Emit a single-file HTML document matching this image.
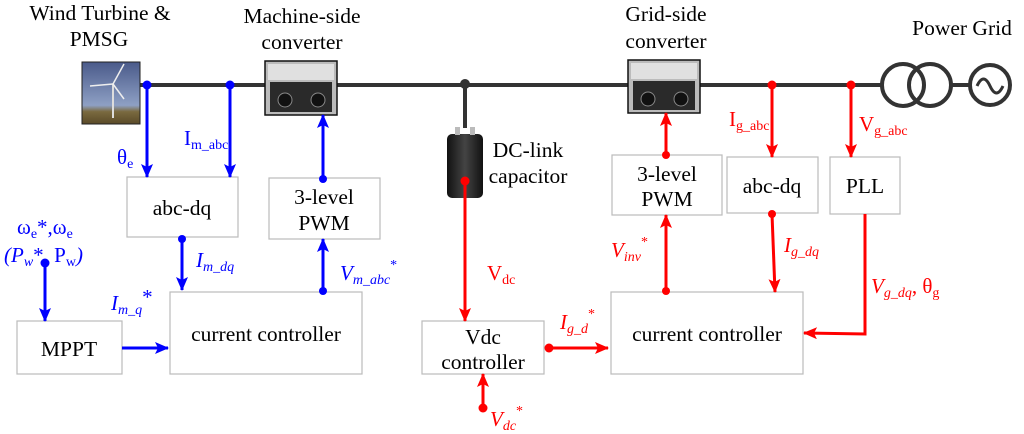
<!DOCTYPE html>
<html><head><meta charset="utf-8"><style>
html,body{margin:0;padding:0;background:#fff}
svg{display:block}
text{font-family:"Liberation Serif",serif}
</style></head><body>
<svg width="1024" height="434" viewBox="0 0 1024 434" xmlns="http://www.w3.org/2000/svg">
<defs>
<marker id="ab" markerWidth="14" markerHeight="12" refX="13" refY="6" orient="auto" markerUnits="userSpaceOnUse" viewBox="0 0 14 12"><path d="M0,0 L14,6 L0,12 L3,6 z" fill="#0000ff"/></marker>
<marker id="ar" markerWidth="14" markerHeight="12" refX="13" refY="6" orient="auto" markerUnits="userSpaceOnUse" viewBox="0 0 14 12"><path d="M0,0 L14,6 L0,12 L3,6 z" fill="#ff0000"/></marker>
<linearGradient id="sky" x1="0" y1="0" x2="0" y2="1"><stop offset="0" stop-color="#4a5a8a"/><stop offset="0.7" stop-color="#8ea0c4"/><stop offset="0.8" stop-color="#7a6a40"/><stop offset="1" stop-color="#5a4a28"/></linearGradient>
<linearGradient id="cap" x1="0" y1="0" x2="1" y2="0"><stop offset="0" stop-color="#111"/><stop offset="0.5" stop-color="#444"/><stop offset="1" stop-color="#111"/></linearGradient>
</defs>
<line x1="140" y1="85" x2="882" y2="85" stroke="#333" stroke-width="4"/>
<line x1="465" y1="85" x2="465" y2="128" stroke="#333" stroke-width="4"/>
<circle cx="465" cy="84" r="5" fill="#333"/>
<circle cx="903" cy="85" r="21" fill="none" stroke="#333" stroke-width="4"/>
<circle cx="930" cy="85" r="21" fill="none" stroke="#333" stroke-width="4"/>
<line x1="951" y1="85" x2="970" y2="85" stroke="#333" stroke-width="4"/>
<circle cx="990" cy="85" r="20" fill="none" stroke="#333" stroke-width="4"/>
<path d="M977,86 q6.5,-14 13,0 t13,0" fill="none" stroke="#333" stroke-width="3"/>
<rect x="82" y="62" width="58" height="62" fill="url(#sky)" stroke="#222"/>
<line x1="113" y1="84" x2="113" y2="118" stroke="#ddd" stroke-width="2"/>
<line x1="113" y1="84" x2="124" y2="64" stroke="#eee" stroke-width="1.5"/>
<line x1="113" y1="84" x2="90" y2="86" stroke="#eee" stroke-width="1.5"/>
<line x1="113" y1="84" x2="124" y2="99" stroke="#eee" stroke-width="1.5"/>
<g>
<rect x="265" y="61" width="72" height="54" fill="#bbb" stroke="#111" stroke-width="1.5"/>
<rect x="268" y="64" width="66" height="16" fill="#e0e0e0"/>
<rect x="270" y="82" width="62" height="30" fill="#2a2a2a"/>
<circle cx="285" cy="100" r="7" fill="#111" stroke="#888"/>
<circle cx="318" cy="100" r="7" fill="#111" stroke="#888"/>
</g>
<g>
<rect x="628" y="60" width="72" height="53" fill="#bbb" stroke="#111" stroke-width="1.5"/>
<rect x="631" y="63" width="66" height="16" fill="#e0e0e0"/>
<rect x="633" y="81" width="62" height="29" fill="#2a2a2a"/>
<circle cx="648" cy="99" r="7" fill="#111" stroke="#888"/>
<circle cx="681" cy="99" r="7" fill="#111" stroke="#888"/>
</g>
<rect x="447" y="134" width="36" height="64" rx="5" fill="url(#cap)"/>
<rect x="455" y="127" width="5" height="8" fill="#bbb"/><rect x="470" y="127" width="5" height="8" fill="#bbb"/>
<g fill="#fff" stroke="#bbb" stroke-width="1.2">
<rect x="127" y="177" width="111" height="60"/>
<rect x="269" y="178" width="111" height="61"/>
<rect x="17" y="321" width="105" height="53"/>
<rect x="170" y="292" width="192" height="82"/>
<rect x="422" y="321" width="122" height="53"/>
<rect x="611" y="292" width="192" height="82"/>
<rect x="612" y="155" width="110" height="60"/>
<rect x="727" y="157" width="91" height="56"/>
<rect x="830" y="157" width="70" height="57"/>
</g>
<g font-size="21.5" fill="#000" text-anchor="middle">
<text x="182" y="215">abc-dq</text>
<text x="324" y="204">3-level</text><text x="324" y="230">PWM</text>
<text x="69" y="356">MPPT</text>
<text x="266" y="341">current controller</text>
<text x="483" y="344">Vdc</text><text x="483" y="369">controller</text>
<text x="707" y="341">current controller</text>
<text x="667" y="181">3-level</text><text x="667" y="206">PWM</text>
<text x="772" y="193">abc-dq</text>
<text x="865" y="193">PLL</text>
<text x="100" y="20">Wind Turbine &amp;</text><text x="99" y="46">PMSG</text>
<text x="302" y="23">Machine-side</text><text x="302" y="49">converter</text>
<text x="666" y="21">Grid-side</text><text x="666" y="48">converter</text>
<text x="962" y="35">Power Grid</text>
<text x="528" y="157">DC-link</text><text x="528" y="183">capacitor</text>
</g>
<g stroke="#0000ff" stroke-width="3" fill="none">
<line x1="147" y1="85" x2="147" y2="177" marker-end="url(#ab)"/>
<line x1="230" y1="85" x2="230" y2="177" marker-end="url(#ab)"/>
<line x1="323" y1="178" x2="323" y2="115" marker-end="url(#ab)"/>
<line x1="323" y1="292" x2="323" y2="239" marker-end="url(#ab)"/>
<line x1="182" y1="238" x2="182" y2="290" marker-end="url(#ab)"/>
<line x1="45" y1="263" x2="45" y2="321" marker-end="url(#ab)"/>
<line x1="122" y1="348" x2="168" y2="348" marker-end="url(#ab)"/>
</g>
<g fill="#0000ff">
<circle cx="147" cy="85" r="4.5"/><circle cx="230" cy="85" r="4.5"/>
<circle cx="323" cy="179" r="4"/><circle cx="323" cy="291" r="4"/>
<circle cx="182" cy="239" r="4"/><circle cx="45" cy="263" r="4.5"/>
</g>
<g fill="#0000ff" font-size="21">
<text x="117" y="164">θ<tspan font-size="14" dy="4">e</tspan></text>
<text x="184" y="145">I<tspan font-size="14" dy="4">m_abc</tspan></text>
<text x="196" y="267" font-style="italic">I<tspan font-size="14" dy="4">m_dq</tspan></text>
<text x="340" y="280" font-style="italic">V<tspan font-size="14" dy="4">m_abc</tspan><tspan font-size="14" dy="-15" font-style="normal">*</tspan></text>
<text x="111" y="310" font-style="italic">I<tspan font-size="14" dy="4">m_q</tspan><tspan dy="-10" font-style="normal">*</tspan></text>
<text x="17" y="234">ω<tspan font-size="14" dy="4">e</tspan><tspan dy="-4">*,ω</tspan><tspan font-size="14" dy="4">e</tspan></text>
<text x="4" y="262"><tspan font-style="italic">(P</tspan><tspan font-size="14" dy="4" font-style="italic">w</tspan><tspan dy="-4">*, P</tspan><tspan font-size="14" dy="4">w</tspan><tspan dy="-4" font-style="italic">)</tspan></text>
</g>
<g stroke="#ff0000" stroke-width="3" fill="none">
<line x1="465" y1="181" x2="465" y2="321" marker-end="url(#ar)"/>
<line x1="549" y1="348" x2="608" y2="348" marker-end="url(#ar)"/>
<line x1="483" y1="408" x2="483" y2="374" marker-end="url(#ar)"/>
<line x1="666" y1="292" x2="666" y2="215" marker-end="url(#ar)"/>
<line x1="666" y1="155" x2="666" y2="113" marker-end="url(#ar)"/>
<line x1="772" y1="85" x2="772" y2="157" marker-end="url(#ar)"/>
<line x1="772" y1="214" x2="775" y2="292" marker-end="url(#ar)"/>
<line x1="851" y1="85" x2="851" y2="157" marker-end="url(#ar)"/>
<polyline points="865,214 865,334 804,333" marker-end="url(#ar)"/>
</g>
<g fill="#ff0000">
<circle cx="465" cy="181" r="4.5"/><circle cx="549" cy="348" r="4.5"/><circle cx="483" cy="408" r="4.5"/>
<circle cx="666" cy="291" r="4"/><circle cx="666" cy="155" r="4"/>
<circle cx="772" cy="85" r="4.5"/><circle cx="851" cy="85" r="4.5"/><circle cx="772" cy="214" r="4"/>
</g>
<g fill="#ff0000" font-size="21">
<text x="487" y="280">V<tspan font-size="14" dy="4">dc</tspan></text>
<text x="560" y="329" font-style="italic">I<tspan font-size="14" dy="4">g_d</tspan><tspan font-size="14" dy="-15" font-style="normal">*</tspan></text>
<text x="490" y="426" font-style="italic">V<tspan font-size="14" dy="4">dc</tspan><tspan font-size="14" dy="-15" font-style="normal">*</tspan></text>
<text x="611" y="257" font-style="italic">V<tspan font-size="14" dy="4">inv</tspan><tspan font-size="14" dy="-15" font-style="normal">*</tspan></text>
<text x="784" y="252" font-style="italic">I<tspan font-size="14" dy="4">g_dq</tspan></text>
<text x="729" y="126">I<tspan font-size="14" dy="4">g_abc</tspan></text>
<text x="859" y="131">V<tspan font-size="14" dy="4">g_abc</tspan></text>
<text x="871" y="293" font-style="italic">V<tspan font-size="14" dy="4">g_dq</tspan><tspan dy="-4" font-style="normal">,  θ</tspan><tspan font-size="14" dy="4" font-style="normal">g</tspan></text>
</g>
</svg>
</body></html>
